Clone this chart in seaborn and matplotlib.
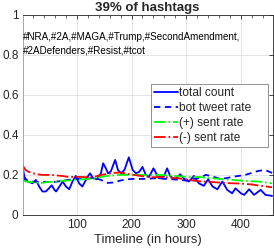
import matplotlib
matplotlib.use('Agg')
import matplotlib.pyplot as plt
from matplotlib.ticker import MultipleLocator, FuncFormatter
import seaborn as sns

# values
hours_total = [0, 4, 10, 19, 25, 31, 37, 43, 49, 54, 59, 62, 68, 74, 80, 86, 92, 98,
               104, 110, 120, 124, 130, 137, 144, 148, 153, 157, 162, 170, 175, 181,
               187, 195, 202, 208, 214, 220, 226, 232, 240, 250, 259, 265, 271, 280,
               289, 298, 305, 314, 323, 332, 340, 348, 357, 366, 375, 384, 390, 400,
               406, 415, 424, 436, 445, 457]
total_count = [0.255, 0.19, 0.167, 0.158, 0.175, 0.142, 0.117, 0.117, 0.133, 0.148,
               0.125, 0.117, 0.142, 0.167, 0.142, 0.128, 0.167, 0.195, 0.158, 0.142,
               0.192, 0.208, 0.183, 0.178, 0.208, 0.258, 0.233, 0.208, 0.217, 0.275,
               0.225, 0.208, 0.225, 0.288, 0.225, 0.208, 0.215, 0.24, 0.2, 0.19,
               0.233, 0.183, 0.192, 0.233, 0.192, 0.178, 0.203, 0.175, 0.167, 0.195,
               0.158, 0.145, 0.178, 0.142, 0.128, 0.167, 0.125, 0.108, 0.133, 0.108,
               0.1, 0.128, 0.1, 0.125, 0.1, 0.095]

hours_rate = [0, 6, 12, 24, 36, 48, 60, 72, 84, 96, 108, 120, 132, 144, 156, 168, 180,
              192, 204, 216, 228, 240, 252, 264, 276, 288, 300, 312, 324, 336, 348, 360,
              372, 384, 396, 408, 420, 432, 444, 457]
bot_rate = [0.185, 0.175, 0.17, 0.165, 0.165, 0.165, 0.165, 0.17, 0.175, 0.18, 0.18,
            0.182, 0.185, 0.175, 0.16, 0.162, 0.172, 0.178, 0.18, 0.18, 0.18, 0.183,
            0.182, 0.18, 0.178, 0.175, 0.172, 0.18, 0.185, 0.2, 0.192, 0.182, 0.183,
            0.19, 0.195, 0.2, 0.21, 0.22, 0.225, 0.21]
pos_rate = [0.175, 0.168, 0.165, 0.162, 0.16, 0.165, 0.165, 0.17, 0.172, 0.175, 0.178,
            0.18, 0.182, 0.19, 0.195, 0.198, 0.2, 0.2, 0.202, 0.2, 0.198, 0.2, 0.2,
            0.198, 0.195, 0.193, 0.19, 0.188, 0.19, 0.185, 0.183, 0.18, 0.178, 0.175,
            0.172, 0.17, 0.168, 0.167, 0.163, 0.158]
neg_rate = [0.25, 0.225, 0.215, 0.205, 0.2, 0.2, 0.198, 0.195, 0.19, 0.19, 0.19,
            0.188, 0.19, 0.2, 0.205, 0.21, 0.212, 0.205, 0.2, 0.195, 0.19, 0.188, 0.19,
            0.188, 0.185, 0.182, 0.178, 0.172, 0.168, 0.166, 0.164, 0.162, 0.16, 0.158,
            0.157, 0.155, 0.152, 0.147, 0.143, 0.138]

hashtags = "#NRA,#2A,#MAGA,#Trump,#SecondAmendment,\n#2ADefenders,#Resist,#tcot"

sns.set_style('white')
plt.rcParams['font.family'] = ['Liberation Sans', 'DejaVu Sans']

fig = plt.figure(figsize=(2.74, 2.49), dpi=100)
ax = fig.add_axes([0.083, 0.137, 0.912, 0.803])

sns.lineplot(x=hours_total, y=total_count, ax=ax, color='#0000ff', lw=1.3,
             label='total count')
sns.lineplot(x=hours_rate, y=bot_rate, ax=ax, color='#0000ff', lw=1.3,
             linestyle=(0, (3.5, 2.5)), label='bot tweet rate')
sns.lineplot(x=hours_rate, y=pos_rate, ax=ax, color='#00ff00', lw=1.3,
             linestyle='-.', label='(+) sent rate')
sns.lineplot(x=hours_rate, y=neg_rate, ax=ax, color='#ff0000', lw=1.3,
             linestyle='-.', label='(-) sent rate')

ax.set_xlim(1, 458)
ax.set_ylim(0, 1)
ax.xaxis.set_major_locator(MultipleLocator(100))
ax.xaxis.set_minor_locator(MultipleLocator(20))
ax.yaxis.set_major_locator(MultipleLocator(0.2))
ax.yaxis.set_major_formatter(FuncFormatter(lambda v, p: f'{v:g}'))
ax.tick_params(which='both', direction='in', top=True, right=True,
               labelsize=8.5, color='0.15', labelcolor='0.15', pad=3)
ax.tick_params(which='major', length=3, width=0.6)
ax.tick_params(which='minor', length=1.8, width=0.5)
ax.grid(True, which='major', color='0.88', lw=0.6)
for side, sp in ax.spines.items():
    sp.set_color('0.15')
    sp.set_linewidth(0.6)
ax.spines['left'].set_color('0.6')

ax.set_title('39% of hashtags', fontsize=9.5, fontweight='bold', pad=3)
ax.set_xlabel('Timeline (in hours)', fontsize=9.4, color='0.15', labelpad=2)
ax.set_ylabel('')

ax.text(1, 0.855, hashtags, fontsize=7.1, va='center', ha='left',
        linespacing=1.4, color='black')

leg = ax.legend(loc='upper left', bbox_to_anchor=(0.512, 0.345, 0.468, 0.31),
                mode='expand', borderaxespad=0,
                fontsize=8.6, handlelength=2.0, handletextpad=0.15,
                labelspacing=0.25, borderpad=0.25, fancybox=False, framealpha=1)
leg.get_frame().set_edgecolor('0.5')
leg.get_frame().set_linewidth(0.6)

fig.savefig('out.png', dpi=100)
